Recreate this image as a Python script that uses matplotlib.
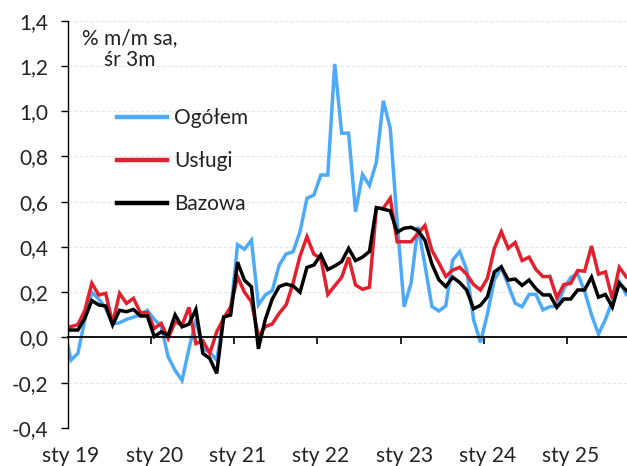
import matplotlib
matplotlib.use('Agg')
import matplotlib.pyplot as plt
import matplotlib.transforms as mtransforms
import numpy as np

plt.rcParams['font.family'] = ['Lato', 'DejaVu Sans']

# monthly data, Dec 2018 .. Sep 2025 (% m/m sa, 3m avg)
ogolem = [0.04,
          -0.10, -0.07, 0.08, 0.20, 0.17, 0.13, 0.06, 0.065, 0.08, 0.09, 0.10, 0.12,
          0.08, 0.05, -0.085, -0.145, -0.19, -0.05, 0.08, -0.05, -0.065, -0.10, 0.09, 0.11,
          0.41, 0.39, 0.43, 0.144, 0.188, 0.207, 0.32, 0.369, 0.379, 0.468, 0.615, 0.63,
          0.718, 0.718, 1.209, 0.903, 0.903, 0.556, 0.72, 0.672, 0.775, 1.046, 0.925, 0.51,
          0.136, 0.24, 0.49, 0.32, 0.137, 0.117, 0.14, 0.342, 0.38, 0.30, 0.08, -0.022,
          0.104, 0.255, 0.31, 0.232, 0.151, 0.136, 0.19, 0.19, 0.122, 0.136, 0.139, 0.215,
          0.265, 0.282, 0.205, 0.10, 0.015, 0.08, 0.162, 0.247, 0.19]
uslugi = [0.045,
          0.048, 0.057, 0.12, 0.24, 0.188, 0.195, 0.063, 0.195, 0.151, 0.173, 0.11, 0.11,
          0.04, 0.062, -0.004, 0.069, 0.055, 0.133, -0.027, -0.015, -0.07, 0.025, 0.084, 0.136,
          0.268, 0.20, 0.158, 0.004, 0.048, 0.06, 0.107, 0.144, 0.24, 0.36, 0.445, 0.368,
          0.35, 0.19, 0.228, 0.266, 0.354, 0.232, 0.213, 0.222, 0.571, 0.571, 0.615, 0.423,
          0.423, 0.423, 0.46, 0.495, 0.385, 0.33, 0.27, 0.298, 0.31, 0.28, 0.234, 0.21,
          0.261, 0.394, 0.468, 0.394, 0.42, 0.34, 0.355, 0.30, 0.269, 0.27, 0.175, 0.234,
          0.239, 0.296, 0.293, 0.404, 0.28, 0.29, 0.171, 0.31, 0.268]
bazowa = [0.033,
          0.033, 0.033, 0.085, 0.163, 0.144, 0.139, 0.055, 0.12, 0.114, 0.124, 0.095, 0.095,
          0.004, 0.025, 0.01, 0.10, 0.047, 0.059, 0.124, -0.07, -0.093, -0.159, 0.091, 0.099,
          0.333, 0.253, 0.224, -0.05, 0.08, 0.17, 0.225, 0.236, 0.228, 0.20, 0.31, 0.32,
          0.365, 0.30, 0.316, 0.335, 0.394, 0.34, 0.355, 0.38, 0.574, 0.567, 0.56, 0.465,
          0.483, 0.487, 0.472, 0.43, 0.325, 0.255, 0.225, 0.266, 0.243, 0.21, 0.127, 0.142,
          0.18, 0.29, 0.312, 0.254, 0.258, 0.23, 0.254, 0.215, 0.188, 0.188, 0.133, 0.17,
          0.17, 0.21, 0.21, 0.267, 0.178, 0.19, 0.134, 0.24, 0.208]
series_names = ['Ogółem', 'Usługi', 'Bazowa']
series_colors = ['#4DAAF6', '#E3202D', '#000000']
x_tick_labels = ['sty 19', 'sty 20', 'sty 21', 'sty 22', 'sty 23', 'sty 24', 'sty 25']
y_ticks = [-0.4, -0.2, 0.0, 0.2, 0.4, 0.6, 0.8, 1.0, 1.2, 1.4]
unit_label = '% m/m sa,\nśr 3m'

W, H = 627, 466
fig = plt.figure(figsize=(W / 100, H / 100), dpi=100)
ax_left, ax_right, ax_top, ax_bottom = 67.5, 629.7, 20.7, 428.0
ax = fig.add_axes([ax_left / W, 1 - ax_bottom / H, (ax_right - ax_left) / W, (ax_bottom - ax_top) / H])

x = np.arange(len(ogolem)) - 1  # 0 = Jan 2019
for vals, name, col in zip([ogolem, uslugi, bazowa], series_names, series_colors):
    ax.plot(x, vals, color=col, lw=2.5, label=name, solid_joinstyle='miter', clip_on=True)

ax.set_xlim(-0.5, 80.5)
ax.set_ylim(-0.4, 1.4)

ax.set_yticks(y_ticks)
ax.set_yticklabels([f"{v:.1f}".replace('.', ',') for v in y_ticks], fontsize=15, color='#222222')
ax.tick_params(axis='y', direction='out', length=5, width=1.0, pad=9)

ax.set_xticks(np.arange(11.5, 80, 12))
ax.tick_params(axis='x', direction='out', length=5, width=1.2, labelbottom=False)
ax.spines['bottom'].set_position(('data', 0))
ax.spines['bottom'].set_linewidth(1.3)
ax.spines['left'].set_linewidth(1.0)
ax.spines['top'].set_visible(False)
ax.spines['right'].set_visible(False)

ax.yaxis.grid(True, color='#e6e6e6', linestyle=(0, (3, 2)), linewidth=0.8)
ax.set_axisbelow(True)

trans = mtransforms.blended_transform_factory(ax.transData, ax.transAxes)
label_y = -28 / (ax_bottom - ax_top)
for k, lab in enumerate(x_tick_labels):
    ax.text(12 * k, label_y, lab, transform=trans, ha='center', va='center',
            fontsize=15, color='#222222')

fig.text(130 / W, 1 - 49 / H, unit_label, ha='center', va='center', fontsize=15,
         color='#222222', linespacing=1.15)

leg = ax.legend(loc='upper left', bbox_to_anchor=(117 / W, 1 - 108 / H),
                bbox_transform=fig.transFigure, frameon=False, fontsize=15,
                handlelength=2.4, handletextpad=0.35, labelspacing=1.1,
                borderpad=0, borderaxespad=0)
for t in leg.get_texts():
    t.set_color('#222222')
for h in leg.get_lines():
    h.set_linewidth(3.2)

fig.savefig('out.png', dpi=100)
